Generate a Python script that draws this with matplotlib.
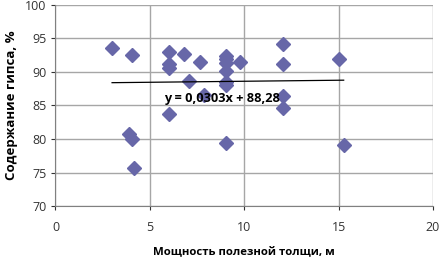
import numpy as np
import matplotlib.pyplot as plt

# мощность полезной толщи, м
x = [3.0, 4.05, 6.0, 6.0, 6.0, 3.9, 4.03, 4.15, 6.0, 6.8, 7.68, 7.05, 7.85,
     9.06, 9.06, 9.06, 9.06, 9.06, 9.06, 9.06, 9.8, 12.04, 12.04, 12.04, 12.04,
     15.0, 15.27]
# содержание гипса, %
y = [93.6, 92.5, 93.0, 91.1, 90.6, 80.7, 80.0, 75.6, 83.7, 92.7, 91.5, 88.6, 86.5,
     92.4, 91.9, 91.3, 90.1, 88.4, 88.1, 79.4, 91.4, 94.1, 91.1, 86.4, 84.6,
     91.9, 79.1]

slope = 0.0303
intercept = 88.28

plt.rcParams['font.family'] = ['Open Sans', 'DejaVu Sans']

fig = plt.figure(figsize=(4.4, 2.67), dpi=100)
ax = fig.add_axes([0.126, 0.228, 0.858, 0.755])

ax.grid(True, color='#a6a6a6', linewidth=1.0)
ax.set_axisbelow(True)

ax.plot(x, y, 'D', color='#6767a8', markersize=7, linestyle='none', zorder=3)

xx = np.array([min(x), max(x)])
ax.plot(xx, slope * xx + intercept, color='black', linewidth=0.9, zorder=4)

ax.text(8.85, 86.0, 'y = 0,0303x + 88,28', fontsize=9.2, fontweight='bold',
        ha='center', va='center', zorder=5)

ax.set_xlim(0, 20)
ax.set_ylim(70, 100)
ax.set_xticks([0, 5, 10, 15, 20])
ax.set_yticks([70, 75, 80, 85, 90, 95, 100])
ax.tick_params(axis='both', labelsize=9, colors='#333333', length=3, width=0.8)
ax.tick_params(axis='x', pad=8)
for s in ['top', 'right']:
    ax.spines[s].set_visible(False)
ax.spines['left'].set_color('#808080')
ax.spines['bottom'].set_color('#808080')

ax.set_xlabel('Мощность полезной толщи, м', fontsize=8.2, fontweight='bold', labelpad=9)
ax.set_ylabel('Содержание гипса, %', fontsize=9.5, fontweight='bold', labelpad=5)

fig.savefig('out.png', dpi=100)
